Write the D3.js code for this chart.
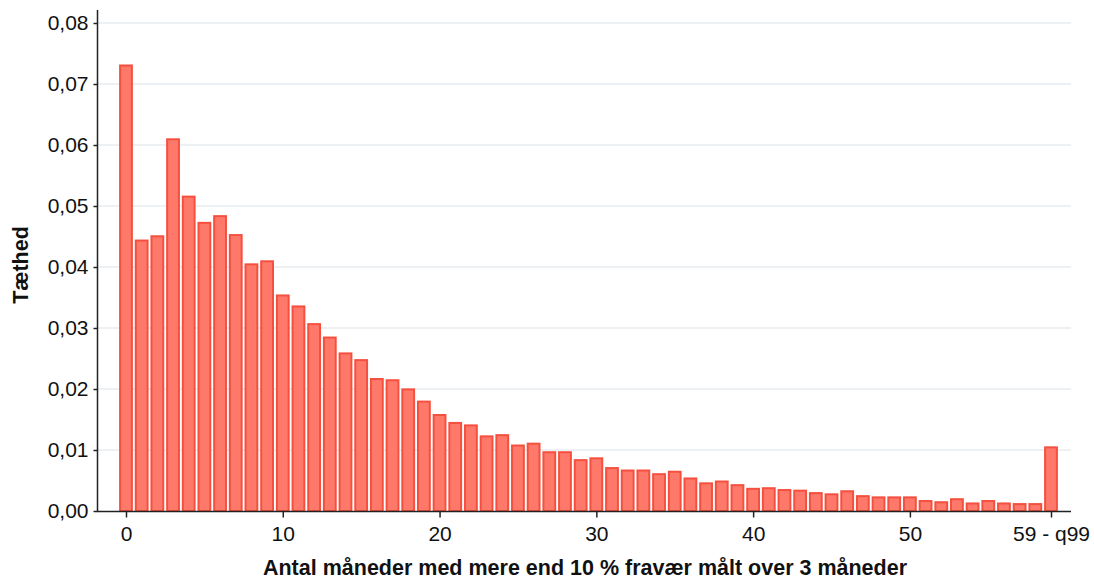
<!DOCTYPE html>
<html><head><meta charset="utf-8">
<script src="https://cdn.jsdelivr.net/npm/d3@7"></script>
<style>body{margin:0;background:#fff}svg{display:block}text{font-family:"Liberation Sans",Arial,sans-serif}</style>
</head><body><svg id="c" width="1094" height="579"></svg>
<script>
const categories = d3.range(0, 60);
const values = [0.0732,0.0445,0.0452,0.0611,0.0517,0.0474,0.0485,0.0454,0.0406,0.0411,
0.0355,0.0337,0.0308,0.0286,0.0260,0.0249,0.0218,0.0216,0.0201,0.0181,
0.0159,0.0146,0.0142,0.0124,0.0126,0.0109,0.0112,0.0098,0.0098,0.0085,
0.0088,0.0072,0.0068,0.0068,0.0062,0.0066,0.0055,0.0047,0.0050,0.0044,
0.0038,0.0039,0.0036,0.0035,0.0031,0.0029,0.0034,0.0026,0.0024,0.0024,
0.0024,0.0018,0.0016,0.0021,0.0014,0.0018,0.0014,0.0013,0.0013,0.0106];
const xTicks = [0,10,20,30,40,50,59];
const xTickLabels = ["0","10","20","30","40","50","59 - q99"];
const yTicks = [0,0.01,0.02,0.03,0.04,0.05,0.06,0.07,0.08];
const xTitle = "Antal måneder med mere end 10 % fravær målt over 3 måneder";
const yTitle = "Tæthed";

const svg = d3.select("#c");
const x = d3.scaleLinear().domain([0,59]).range([126,1051]);
const y = d3.scaleLinear().domain([0,0.08]).range([511,23]);
const bw = 11.8;
const fmt = d => d3.format(".2f")(d).replace(".", ",");

// gridlines
svg.append("g").selectAll("line").data(yTicks.slice(1)).join("line")
  .attr("x1",98).attr("x2",1071).attr("y1",d=>y(d)).attr("y2",d=>y(d))
  .attr("stroke","#e7edf1").attr("stroke-width",1.6);

// bars
svg.append("g").selectAll("rect").data(categories).join("rect")
  .attr("x",d=>x(d)-bw/2).attr("width",bw)
  .attr("y",(d,i)=>y(values[i])+1).attr("height",(d,i)=>y(0)-y(values[i])-1)
  .attr("fill","#fe796a").attr("stroke","#f5503f").attr("stroke-width",2);

// y axis
const ya = svg.append("g").attr("transform","translate(97.5,0)")
  .call(d3.axisLeft(y).tickValues(yTicks).tickFormat(fmt).tickSize(4).tickPadding(5));
ya.select(".domain").attr("d","M0,10V511").attr("stroke","#222").attr("stroke-width",1.5);
ya.selectAll(".tick line").attr("stroke","#222").attr("stroke-width",1.5);
ya.selectAll(".tick text").attr("font-size",21).attr("fill","#111").attr("font-family","Liberation Sans, Arial, sans-serif");

// x axis
const xa = svg.append("g").attr("transform","translate(0,511.5)")
  .call(d3.axisBottom(x).tickValues(xTicks).tickFormat((d,i)=>xTickLabels[i]).tickSize(6).tickPadding(9));
xa.select(".domain").attr("d","M97,0H1071").attr("stroke","#222").attr("stroke-width",1.5);
xa.selectAll(".tick line").attr("stroke","#222").attr("stroke-width",1.5);
xa.selectAll(".tick text").attr("font-size",21).attr("fill","#111").attr("font-family","Liberation Sans, Arial, sans-serif");

svg.append("text").attr("x",585).attr("y",575).attr("text-anchor","middle")
  .attr("font-size",21.5).attr("font-weight","bold").attr("fill","#111").text(xTitle);
svg.append("text").attr("transform","translate(28,265) rotate(-90)").attr("text-anchor","middle")
  .attr("font-size",21.5).attr("font-weight","bold").attr("fill","#111").text(yTitle);
</script></body></html>
